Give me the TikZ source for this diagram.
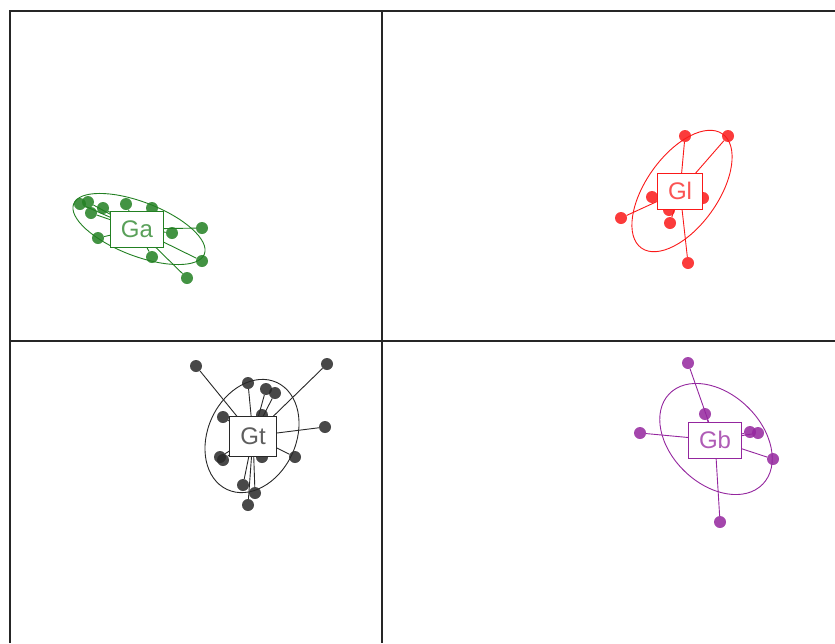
\documentclass[tikz,border=0pt]{standalone}
\usepackage{fontspec}
\setmainfont{Liberation Sans}
\usepackage{tikz}

\definecolor{gagreen}{RGB}{34,128,34}
\definecolor{glred}{RGB}{250,25,25}
\definecolor{gtgray}{RGB}{40,40,40}
\definecolor{gbpurple}{RGB}{148,38,158}

\pgfdeclarelayer{back}
\pgfsetlayers{back,main}

\begin{document}
\begin{tikzpicture}[x=1pt,y=-1pt,
    panel/.style={line width=1.4pt,black!85},
    hull/.style={draw=#1,line width=0.9pt},
    grp/.style={draw=#1,fill=white,line width=0.9pt,text=#1!75!white,
        font=\fontsize{24}{28}\selectfont,inner xsep=10.5pt,inner ysep=0pt,
        minimum height=36pt},
    pt/.style={circle,fill=#1,fill opacity=0.85,inner sep=0pt,minimum size=12pt},
    link/.style={draw=#1,line width=0.9pt}]
    \useasboundingbox (0,0) rectangle (835,643);

    % Panel frame
    \draw[panel] (10,643) -- (10,11) -- (835,11);
    \draw[panel] (382,11) -- (382,643);
    \draw[panel] (10,341) -- (835,341);

    % Group Ga
    \draw[hull=gagreen,rotate around={-21:(139,229)}]
        (139,229) ellipse [x radius=70,y radius=27];
    \foreach \n/\x/\y in {1/80/204,2/88/202,3/91/213,4/103/208,5/126/204,
        6/152/208,7/98/238,8/172/233,9/202/228,10/152/257,11/202/261,12/187/278}
        \node[pt=gagreen] (ga\n) at (\x,\y) {};
    \node[grp=gagreen] (ga) at (137,229) {Ga};
    \begin{pgfonlayer}{back}
        \foreach \n in {1,...,12}
            \draw[link=gagreen] (ga.center) -- (ga\n);
    \end{pgfonlayer}

    % Group Gl
    \draw[hull=glred,rotate around={54.5:(682,191)}]
        (682,191) ellipse [x radius=70,y radius=36];
    \foreach \n/\x/\y in {1/685/136,2/728/136,3/621/218,4/652/197,
        5/669/210,6/670/223,7/703/198,8/688/263}
        \node[pt=glred] (gl\n) at (\x,\y) {};
    \node[grp=glred] (gl) at (680,191) {Gl};
    \begin{pgfonlayer}{back}
        \foreach \n in {1,...,8}
            \draw[link=glred] (gl.center) -- (gl\n);
    \end{pgfonlayer}

    % Group Gt
    \draw[hull=gtgray,rotate around={65:(252,436)}]
        (252,436) ellipse [x radius=59,y radius=44];
    \foreach \n/\x/\y in {1/196/366,2/327/364,3/248/383,4/266/389,5/275/393,
        6/223/417,7/262/415,8/325/427,9/220/457,10/223/460,11/262/457,
        12/295/457,13/243/485,14/255/493,15/248/505}
        \node[pt=gtgray] (gt\n) at (\x,\y) {};
    \node[grp=gtgray,minimum height=40pt] (gt) at (253,436) {Gt};
    \begin{pgfonlayer}{back}
        \foreach \n in {1,...,15}
            \draw[link=gtgray] (gt.center) -- (gt\n);
    \end{pgfonlayer}

    % Group Gb
    \draw[hull=gbpurple,rotate around={-44:(716,439)}]
        (716,439) ellipse [x radius=65,y radius=45];
    \foreach \n/\x/\y in {1/688/363,2/640/433,3/705/414,4/750/432,
        5/758/433,6/773/459,7/720/522}
        \node[pt=gbpurple] (gb\n) at (\x,\y) {};
    \node[grp=gbpurple] (gb) at (715,440) {Gb};
    \begin{pgfonlayer}{back}
        \foreach \n in {1,...,7}
            \draw[link=gbpurple] (gb.center) -- (gb\n);
    \end{pgfonlayer}
\end{tikzpicture}
\end{document}
